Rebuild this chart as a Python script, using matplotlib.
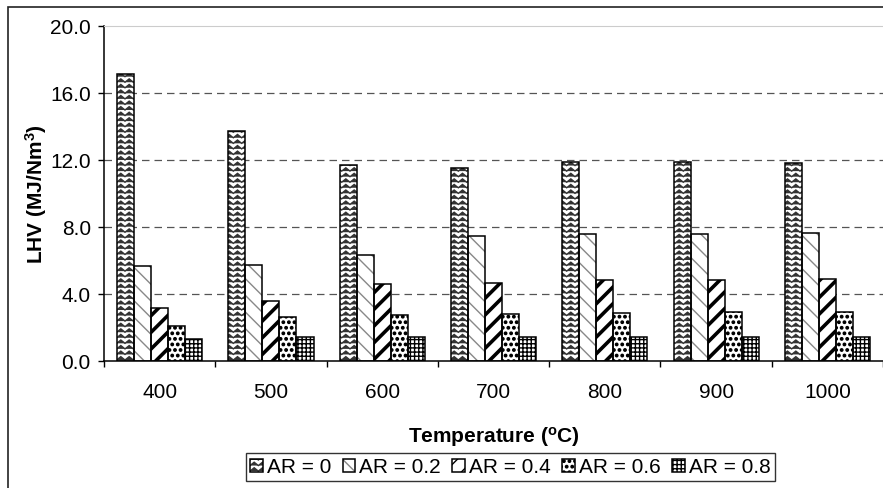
import warnings
import numpy as np
import matplotlib
matplotlib.use('Agg')
import matplotlib.pyplot as plt
from matplotlib import hatch as mhatch
from matplotlib.path import Path
from matplotlib.patches import Rectangle

warnings.filterwarnings('ignore')

# data
temps = ['400', '500', '600', '700', '800', '900', '1000']
ar_labels = ['AR = 0', 'AR = 0.2', 'AR = 0.4', 'AR = 0.6', 'AR = 0.8']
ar0 = [17.1, 13.75, 11.7, 11.5, 11.85, 11.9, 11.8]
ar02 = [5.65, 5.7, 6.3, 7.45, 7.55, 7.6, 7.65]
ar04 = [3.15, 3.55, 4.6, 4.65, 4.8, 4.85, 4.9]
ar06 = [2.1, 2.6, 2.75, 2.8, 2.85, 2.9, 2.9]
ar08 = [1.3, 1.4, 1.4, 1.4, 1.45, 1.45, 1.45]


# extra hatches: 'z' = wavy lines (Excel style), 'd' = big filled dots
class ZigZag(mhatch.HatchPatternBase):
    def __init__(self, hatch, density):
        self.num_lines = hatch.count('z') * density
        self.num_zigs = 12
        self.num_vertices = self.num_lines * (2 * self.num_zigs + 1)

    def set_vertices_and_codes(self, vertices, codes):
        n = 2 * self.num_zigs + 1
        xs = np.linspace(0, 1, n)
        amp = 0.3 / self.num_lines
        for i in range(self.num_lines):
            y0 = (i + 0.5) / self.num_lines
            vertices[i*n:(i+1)*n, 0] = xs
            vertices[i*n:(i+1)*n, 1] = y0 + amp * np.where(np.arange(n) % 2 == 0, -1, 1)
            codes[i*n] = Path.MOVETO
            codes[i*n+1:(i+1)*n] = Path.LINETO


class BigDots(mhatch.Circles):
    size = 0.22
    filled = True

    def __init__(self, hatch, density):
        self.num_rows = hatch.count('d') * density
        super().__init__(hatch, density)


mhatch._hatch_types.extend([ZigZag, BigDots])

plt.rcParams['font.family'] = ['Liberation Sans', 'DejaVu Sans']
plt.rcParams['mathtext.default'] = 'regular'

fig = plt.figure(figsize=(8.83, 4.89), dpi=100)
ax = fig.add_axes([0.1178, 0.26, 0.8822, 0.685])

# border around the whole chart
fig.patches.append(Rectangle((8 / 883, -0.1), 1.2, 1 - 8 / 489 + 0.1, transform=fig.transFigure,
                             fill=False, edgecolor='#222222', linewidth=1.2))

series = [ar0, ar02, ar04, ar06, ar08]
hatches = ['zzz', '\\\\', '//', 'ddd', '++++']
hcolors = ['#333333', '#888888', 'black', 'black', 'black']
hwidths = [1.0, 1.0, 2.6, 1.0, 1.0]

x = np.arange(len(temps))
w = 0.153
handles = []
for i, vals in enumerate(series):
    pos = x + (i - 2) * w
    with plt.rc_context({'hatch.linewidth': hwidths[i]}):
        hb = ax.bar(pos, vals, w, color='white', edgecolor=hcolors[i], linewidth=0,
                    hatch=hatches[i], zorder=2)
    for p in hb:
        if hasattr(p, 'set_hatch_linewidth'):
            p.set_hatch_linewidth(hwidths[i])
    ob = ax.bar(pos, vals, w, fill=False, edgecolor='black', linewidth=1.1, zorder=3)
    handles.append((hb[0], ob[0]))

ax.set_xlim(-0.5, len(temps) - 0.5)
ax.set_ylim(0, 20)
ax.set_yticks(np.arange(0, 20.1, 4))
ax.set_yticklabels(['%.1f' % v for v in np.arange(0, 20.1, 4)])
ax.set_xticks(x)
ax.set_xticklabels(temps)
ax.set_xticks(np.arange(-0.5, len(temps)), minor=True)
ax.tick_params(axis='x', which='major', length=0, pad=15, labelsize=15)
ax.tick_params(axis='x', which='minor', length=4, width=1, direction='out')
ax.tick_params(axis='y', length=4.5, width=1, direction='out', pad=5, labelsize=15)

for v in [4, 8, 12, 16]:
    ax.axhline(v, color='#555555', linewidth=0.9, linestyle=(0, (6, 4)), zorder=1)

ax.spines['right'].set_visible(False)
ax.spines['top'].set_color('#cccccc')
ax.spines['left'].set_linewidth(1.1)
ax.spines['bottom'].set_linewidth(1.1)

ax.set_ylabel('LHV (MJ/Nm$^{3}$)', fontsize=15, fontweight='bold', labelpad=1)
ax.set_xlabel('Temperature ($^{o}$C)', fontsize=15, fontweight='bold', labelpad=17)

leg = fig.legend(handles, ar_labels, loc='center', bbox_to_anchor=(0.578, 0.043), ncol=5,
                 fontsize=15, frameon=True, fancybox=False, edgecolor='black',
                 handlelength=0.6, handleheight=0.6, handletextpad=0.2, columnspacing=0.55,
                 borderpad=0.2, borderaxespad=0)
leg.get_frame().set_linewidth(1.0)

fig.savefig('out.png', dpi=100)
